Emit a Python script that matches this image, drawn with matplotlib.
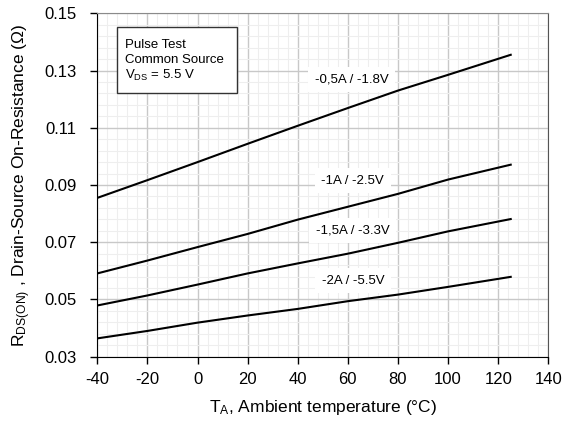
import numpy as np
import matplotlib.pyplot as plt
from matplotlib.patches import Rectangle

plt.rcParams['font.family'] = ['Liberation Sans', 'DejaVu Sans']

# temperature points (deg C)
temp = [-40, -20, 0, 20, 40, 60, 80, 100, 125]

# R_DS(on) curves
r_05a = [0.0855, 0.0917, 0.0980, 0.1044, 0.1107, 0.1169, 0.1230, 0.1285, 0.1355]
r_1a = [0.0591, 0.0636, 0.0683, 0.0729, 0.0779, 0.0824, 0.0869, 0.0919, 0.0971]
r_15a = [0.0479, 0.0514, 0.0552, 0.0591, 0.0626, 0.0660, 0.0698, 0.0738, 0.0781]
r_2a = [0.0364, 0.0390, 0.0419, 0.0444, 0.0467, 0.0494, 0.0517, 0.0544, 0.0579]

curves = [r_05a, r_1a, r_15a, r_2a]
labels = ['-0,5A / -1.8V', '-1A / -2.5V', '-1,5A / -3.3V', '-2A / -5.5V']
label_pos = [(61.5, 0.1270), (62, 0.0915), (62, 0.0740), (62, 0.0566)]

xticks = [-40, -20, 0, 20, 40, 60, 80, 100, 120, 140]
yticks = [0.03, 0.05, 0.07, 0.09, 0.11, 0.13, 0.15]

cond_lines = ['Pulse Test', 'Common Source', '$\\mathregular{V_{DS}}$ = 5.5 V']

fig = plt.figure(figsize=(5.65, 4.21), dpi=100)
ax = fig.add_axes([97.3 / 565, 1 - 356.7 / 421, 451 / 565, 343.4 / 421])

ax.set_xlim(-40, 140)
ax.set_ylim(0.03, 0.15)
ax.set_xticks(xticks)
ax.set_xticklabels([str(v) for v in xticks])
ax.set_yticks(yticks)
ax.set_yticklabels(['%.2f' % v for v in yticks])
ax.set_xticks(np.arange(-40, 141, 4), minor=True)
ax.set_yticks(np.arange(0.03, 0.1501, 0.004), minor=True)

ax.grid(which='major', color='#c8c8c8', lw=1.0)
ax.grid(which='minor', color='#eeeeee', lw=0.8)
ax.set_axisbelow(True)

for y in curves:
    ax.plot(temp, y, color='black', lw=1.5, zorder=5)

for (x, y), t in zip(label_pos, labels):
    ax.text(x, y, t, ha='center', va='center', fontsize=9.5, zorder=3,
            bbox=dict(facecolor='white', edgecolor='none',
                      boxstyle='square,pad=0.5'))

# condition box
ax.add_patch(Rectangle((-32.3, 0.1223), 48.1, 0.0230, facecolor='white',
                       edgecolor='#333333', lw=1.0, zorder=3))
for i, t in enumerate(cond_lines):
    ax.text(-28.8, 0.1389 - i * 0.00535, t, ha='left', va='center',
            fontsize=9.5, zorder=4)

ax.tick_params(which='major', direction='out', length=5, labelsize=12, width=1)
ax.tick_params(which='minor', length=0)
ax.tick_params(axis='y', pad=10)
ax.tick_params(axis='x', pad=6)
ax.spines['left'].set_color('black')
ax.spines['bottom'].set_color('black')
ax.spines['top'].set_color('#8a8a8a')
ax.spines['right'].set_color('#555555')

ax.set_xlabel('$\\mathregular{T_A}$, Ambient temperature (°C)', fontsize=12.5, labelpad=8)
ax.set_ylabel('$\\mathregular{R_{DS(ON)}}$ , Drain-Source On-Resistance (Ω)', fontsize=12.5, labelpad=8)

fig.savefig('out.png', dpi=100)
